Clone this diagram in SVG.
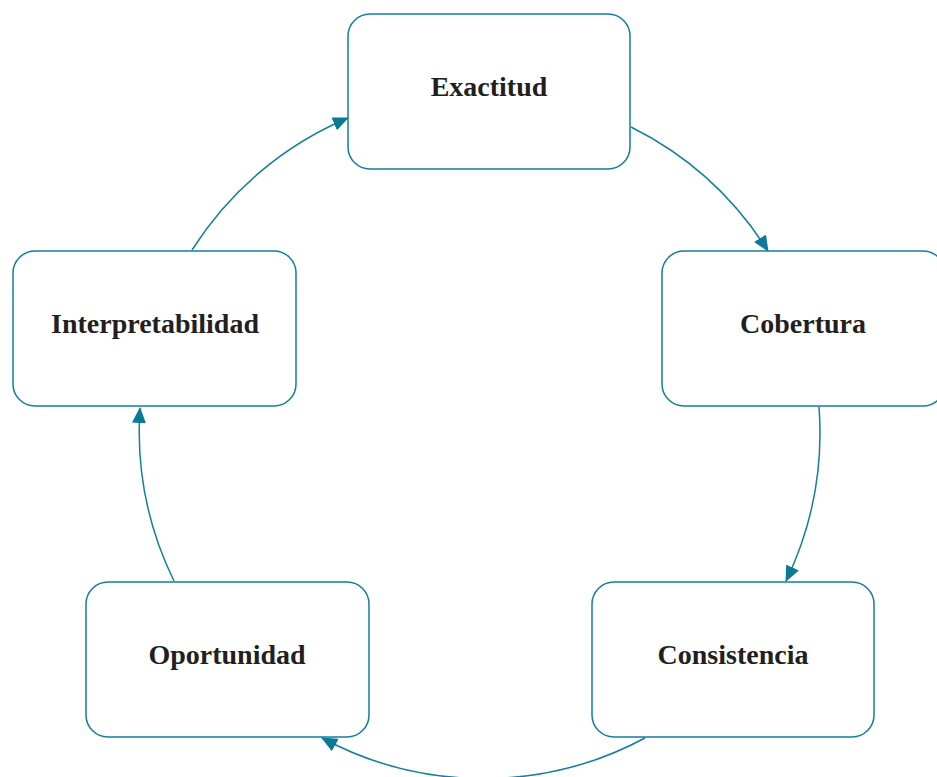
<svg xmlns="http://www.w3.org/2000/svg" width="937" height="777" viewBox="0 0 937 777">
<style>
.box{fill:#fff;stroke:#137f9c;stroke-width:1.5}
.lbl{font-family:"Liberation Serif",serif;font-weight:bold;font-size:28px;fill:#231f20;text-anchor:middle}
.conn{fill:none;stroke:#137f9c;stroke-width:1.5;marker-end:url(#ah)}
</style>
<defs>
<marker id="ah" markerUnits="userSpaceOnUse" markerWidth="16" markerHeight="14" refX="15" refY="7" orient="auto" viewBox="0 0 16 14">
<path d="M0,0 L16,7 L0,14 z" fill="#0a7a99"/>
</marker>
</defs>
<rect width="937" height="777" fill="#fff"/>
<g id="connectors">
<path class="conn" d="M631,127 A342,342 0 0 1 768,251"/>
<path class="conn" d="M819,407 A342,342 0 0 1 786,581"/>
<path class="conn" d="M645,738 A342,342 0 0 1 322,738"/>
<path class="conn" d="M174,581 A342,342 0 0 1 140,408"/>
<path class="conn" d="M192,250 A342,342 0 0 1 348,118"/>
</g>
<g id="exactitud"><rect class="box" x="348" y="14" width="282" height="155" rx="22"/><text class="lbl" x="489" y="96">Exactitud</text></g>
<g id="cobertura"><rect class="box" x="662" y="251" width="283" height="155" rx="22"/><text class="lbl" x="803" y="333">Cobertura</text></g>
<g id="consistencia"><rect class="box" x="592" y="582" width="282" height="155" rx="22"/><text class="lbl" x="733" y="664">Consistencia</text></g>
<g id="oportunidad"><rect class="box" x="86" y="582" width="283" height="155" rx="22"/><text class="lbl" x="227" y="664">Oportunidad</text></g>
<g id="interpretabilidad"><rect class="box" x="13" y="251" width="283" height="155" rx="22"/><text class="lbl" x="155" y="333">Interpretabilidad</text></g>
</svg>
